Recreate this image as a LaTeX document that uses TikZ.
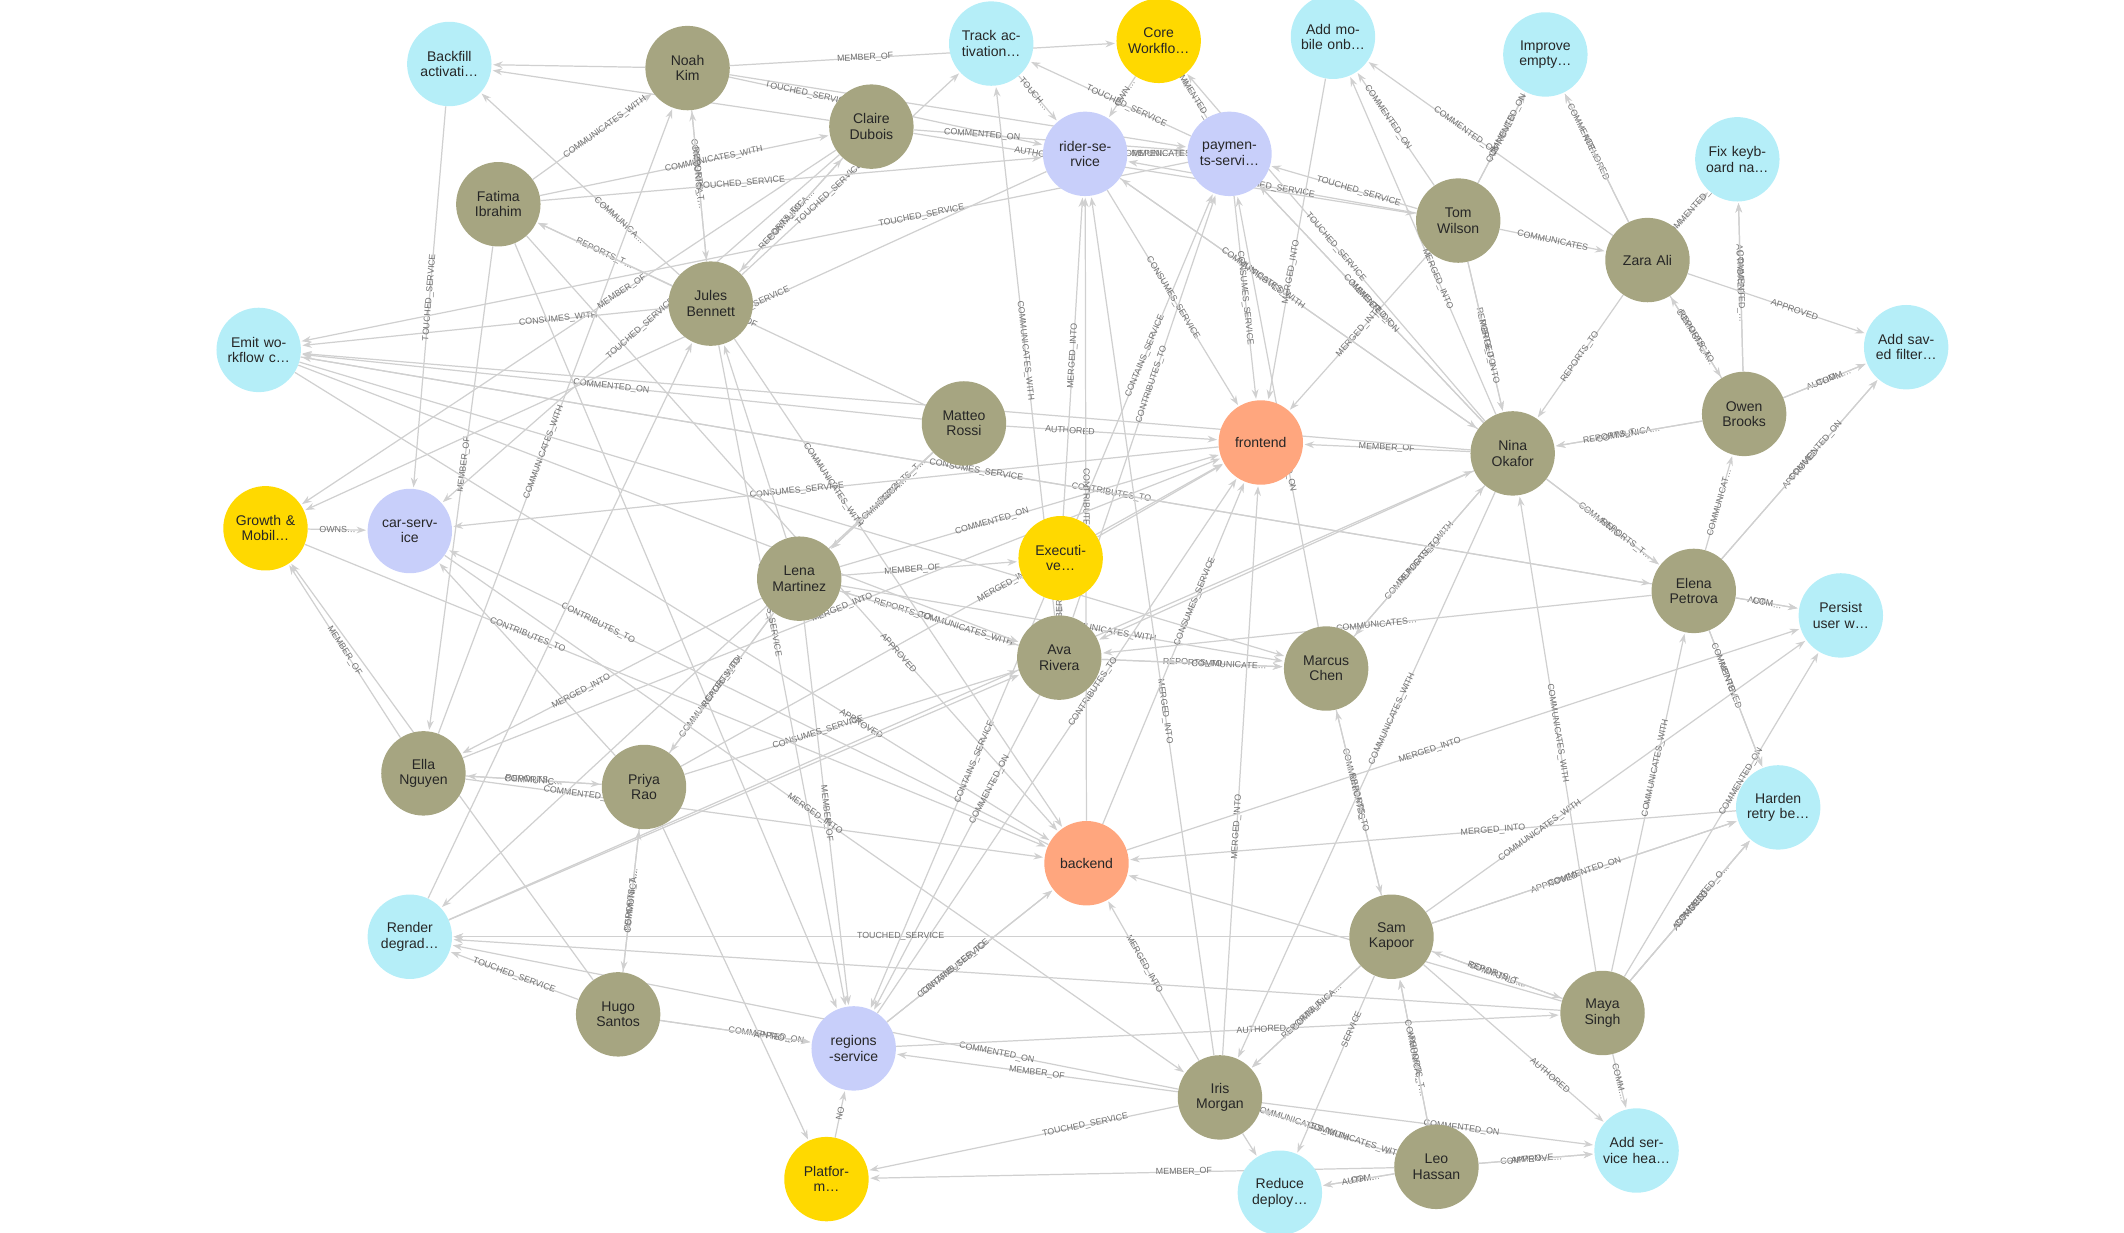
\documentclass[tikz,border=0pt]{standalone}
\usepackage{fontspec}
\setmainfont{Liberation Sans}
\usetikzlibrary{arrows.meta}
\definecolor{task}{HTML}{B5EEF8}
\definecolor{team}{HTML}{FFD900}
\definecolor{svc}{HTML}{C8CFFA}
\definecolor{repo}{HTML}{FFA67E}
\definecolor{per}{HTML}{A6A581}
\definecolor{edg}{HTML}{D0D0D0}
\definecolor{lab}{HTML}{707070}
\pgfdeclarelayer{bg}
\pgfsetlayers{bg,main}
\begin{document}
\begin{tikzpicture}[x=1pt,y=-1pt,
 nd/.style={circle,minimum size=62pt,inner sep=0pt,text width=52pt,align=center,font=\fontsize{10.3}{11.3}\selectfont,text=black!85},
 task/.style={nd,fill=task}, team/.style={nd,fill=team}, svc/.style={nd,fill=svc}, repo/.style={nd,fill=repo}, per/.style={nd,fill=per},
 e/.style={draw=edg,line width=0.9pt,-{Stealth[length=7pt,width=5pt]},shorten >=1pt},
 l/.style={sloped,font=\fontsize{6.5}{7}\selectfont,text=lab,inner sep=1pt,pos=0.5}]
\useasboundingbox (0,0) rectangle (1560,905);
% tasks
\node[task] (backfill) at (330,47) {Backfill activati…};
\node[task] (track) at (728,32) {Track ac-\\tivation…};
\node[task] (mobile) at (979,27) {Add mo-\\bile onb…};
\node[task] (improve) at (1135,40) {Improve empty…};
\node[task] (fix) at (1276,117) {Fix keyb-\\oard na…};
\node[task] (emit) at (190,257) {Emit wo-\\rkflow c…};
\node[task] (saved) at (1400,255) {Add sav-\\ed filter…};
\node[task] (persist) at (1352,452) {Persist user w…};
\node[task] (harden) at (1306,593) {Harden retry be…};
\node[task] (render) at (301,688) {Render degrad…};
\node[task] (health) at (1202,845) {Add ser-\\vice hea…};
\node[task] (reduce) at (940,876) {Reduce deploy…};
% teams
\node[team] (core) at (851,30) {Core Workflo…};
\node[team] (growth) at (195,388) {Growth \& Mobil…};
\node[team] (exec) at (779,410) {Executi-\\ve…};
\node[team] (plat) at (607,866) {Platfor-\\m…};
% services
\node[svc] (rider) at (797,113) {rider-se-\\rvice};
\node[svc] (pay) at (903,113) {paymen-\\ts-servi…};
\node[svc] (car) at (301,390) {car-serv-\\ice};
\node[svc] (regions) at (627,770) {regions\\-service};
% repos
\node[repo] (front) at (926,325) {frontend};
\node[repo] (back) at (798,634) {backend};
% people
\node[per] (noah) at (505,50) {Noah\\Kim};
\node[per] (claire) at (640,93) {Claire\\Dubois};
\node[per] (fatima) at (366,150) {Fatima\\Ibrahim};
\node[per] (jules) at (522,223) {Jules\\Bennett};
\node[per] (matteo) at (708,311) {Matteo\\Rossi};
\node[per] (tom) at (1071,162) {Tom\\Wilson};
\node[per] (zara) at (1210,191) {Zara Ali};
\node[per] (owen) at (1281,304) {Owen\\Brooks};
\node[per] (nina) at (1111,333) {Nina\\Okafor};
\node[per] (lena) at (587,425) {Lena\\Martinez};
\node[per] (ava) at (778,483) {Ava\\Rivera};
\node[per] (marcus) at (974,491) {Marcus\\Chen};
\node[per] (elena) at (1244,434) {Elena\\Petrova};
\node[per] (ella) at (311,568) {Ella\\Nguyen};
\node[per] (priya) at (473,578) {Priya\\Rao};
\node[per] (sam) at (1022,688) {Sam\\Kapoor};
\node[per] (maya) at (1177,744) {Maya\\Singh};
\node[per] (hugo) at (454,745) {Hugo\\Santos};
\node[per] (iris) at (896,806) {Iris\\Morgan};
\node[per] (leo) at (1055,857) {Leo\\Hassan};
% edges
\begin{pgfonlayer}{bg}
\draw[e] (noah) -- node[l,pos=0.35]{MEMBER\_OF} (core);
\draw[e] (noah) -- (backfill);
\draw[e] (noah) -- node[l,pos=0.25]{TOUCHED\_SERVICE} (rider);
\draw[e] (noah) -- (pay);
\draw[e] (claire) -- node[l,pos=0.25]{COMMENTED\_ON} (pay);
\draw[e] (claire) -- node[l,pos=0.25]{AUTHORED} (tom);
\draw[e] (claire) -- (backfill);
\draw[e] (fatima) -- node[l,pos=0.6]{COMMUNICATES\_WITH} (noah);
\draw[e] (fatima) -- node[l,pos=0.6]{COMMUNICATES\_WITH} (claire);
\draw[e] (jules) -- node[l]{COMMUNICA…} (claire);
\draw[e] (claire) -- node[l,pos=0.6]{REPORTS\_TO} (jules);
\draw[e] (jules) -- node[l,pos=0.6]{COMMUNICA…} (noah);
\draw[e] (noah) -- node[l,pos=0.45]{REPORTS\_T…} (jules);
\draw[e] (jules) -- node[l]{REPORTS\_T…} (fatima);
\draw[e] (jules) -- node[l,pos=0.3]{COMMUNICA…} (backfill);
\draw[e] (jules) -- node[l,pos=0.4]{TOUCHED\_SERVICE} (track);
\draw[e] (fatima) -- node[l,pos=0.4]{TOUCHED\_SERVICE} (rider);
\draw[e] (jules) -- node[l,pos=0.3]{CONSUMES\_WITH} (emit);
\draw[e] (backfill) -- node[l]{TOUCHED\_SERVICE} (car);
\draw[e] (growth) -- node[l]{OWNS…} (car);
\draw[e] (ella) -- node[l]{MEMBER\_OF} (growth);
\draw[e] (ella) -- node[l,pos=0.45]{COMMUNICATES\_WITH} (noah);
\draw[e] (fatima) -- node[l,pos=0.45]{MEMBER\_OF} (ella);
\draw[e] (ella) -- node[l]{REPORTS\_…} (priya);
\draw[e] (priya) -- node[l]{COMMUNIC…} (ella);
\draw[e] (hugo) -- node[l]{REPORTS\_T…} (priya);
\draw[e] (priya) -- node[l]{COMMUNICA…} (hugo);
\draw[e] (hugo) -- node[l]{TOUCHED\_SERVICE} (render);
\draw[e] (hugo) -- node[l,pos=0.7]{COMMENTED\_ON} (regions);
\draw[e] (hugo) -- node[l,pos=0.75]{APPRO…} (regions);
\draw[e] (hugo) -- (growth);
\draw[e] (priya) -- (car);
\draw[e] (priya) -- (plat);
\draw[e] (fatima) -- (regions);
\draw[e] (claire) -- node[l,pos=0.4]{MEMBER\_OF} (growth);
\draw[e] (rider) -- node[l,pos=0.4]{TOUCHED\_SERVICE} (growth);
\draw[e] (pay) -- node[l,pos=0.3]{TOUCHED\_SERVICE} (emit);
\draw[e] (matteo) -- node[l,pos=0.5]{MEMBER\_OF} (fatima);
\draw[e] (matteo) -- node[l,pos=0.3]{REPORTS\_T…} (lena);
\draw[e] (matteo) -- node[l,pos=0.5]{COMMUNICA…} (lena);
\draw[e] (matteo) -- node[l,pos=0.3]{AUTHORED} (front);
\draw[e] (lena) -- node[l,pos=0.4]{COMMENTED\_ON} (front);
\draw[e] (front) -- node[l,pos=0.55]{CONSUMES\_SERVICE} (car);
\draw[e] (back) -- node[l,pos=0.75]{CONTRIBUTES\_TO} (car);
\draw[e] (lena) -- node[l,pos=0.4]{MEMBER\_OF} (exec);
\draw[e] (lena) -- node[l,pos=0.35]{REPORTS\_TO} (ava);
\draw[e] (lena) -- node[l,pos=0.6]{COMMUNICATES\_WITH} (marcus);
\draw[e] (ava) -- node[l]{REPORTS\_TO} (marcus);
\draw[e] (ava) -- node[l,pos=0.7]{COMMUNICATE…} (marcus);
\draw[e] (ava) -- node[l,pos=0.3]{COMMUNICATES\_WITH} (lena);
\draw[e] (ava) -- node[l,pos=0.3]{MEMBER\_OF} (exec);
\draw[e] (lena) -- node[l,pos=0.6]{COMMUNICATES\_WITH} (priya);
\draw[e] (lena) -- node[l,pos=0.6]{MERGED\_INTO} (ella);
\draw[e] (lena) -- node[l,pos=0.5]{MEMBER\_OF} (regions);
\draw[e] (lena) -- (jules);
\draw[e] (priya) -- node[l,pos=0.4]{CONSUMES\_SERVICE} (ava);
\draw[e] (priya) -- node[l,pos=0.5]{REPORTS\_TO} (lena);
\draw[e] (priya) -- node[l,pos=0.6]{MERGED\_INTO} (front);
\draw[e] (ella) -- node[l,pos=0.2]{COMMENTED\_ON} (back);
\draw[e] (emit) -- node[l,pos=0.75]{APPROVED} (back);
\draw[e] (emit) -- node[l,pos=0.6]{CONTRIBUTES\_TO} (elena);
\draw[e] (fatima) -- node[l,pos=0.7]{APPROVED} (back);
\draw[e] (render) -- (nina);
\draw[e] (render) -- (ava);
\draw[e] (maya) -- (render);
\draw[e] (sam) -- (render);
\draw[e] (iris) -- node[l,pos=0.25]{COMMENTED\_ON} (render);
\draw[e] (iris) -- node[l,pos=0.3]{TOUCHED\_SERVICE} (plat);
\draw[e] (leo) -- node[l,pos=0.4]{MEMBER\_OF} (plat);
\draw[e] (iris) -- node[l,pos=0.5]{MEMBER\_OF} (regions);
\draw[e] (plat) -- node[l,pos=0.5]{NO} (regions);
\draw[e] (regions) -- node[l,pos=0.4]{CONTRIBUTES\_TO} (back);
\draw[e] (regions) -- node[l,pos=0.4]{CONTAINS\_SERVICE} (back);
\draw[e] (regions) -- node[l,pos=0.6]{CONTRIBUTES\_TO} (front);
\draw[e] (regions) -- node[l,pos=0.55]{AUTHORED} (maya);
\draw[e] (exec) -- node[l,pos=0.4]{CONTAINS\_SERVICE} (regions);
\draw[e] (ava) -- node[l,pos=0.3]{COMMENTED\_ON} (regions);
\draw[e] (exec) -- node[l]{CONTAINS\_SERVICE} (pay);
\draw[e] (exec) -- node[l,pos=0.5]{MERGED\_INTO} (rider);
\draw[e] (exec) -- (front);
\draw[e] (ava) -- node[l,pos=0.55]{CONTRIBUTES\_TO} (pay);
\draw[e] (iris) -- node[l,pos=0.4]{MERGED\_INTO} (rider);
\draw[e] (iris) -- node[l,pos=0.4]{MERGED\_INTO} (front);
\draw[e] (iris) -- node[l,pos=0.6]{MERGED\_INTO} (back);
\draw[e] (back) -- node[l,pos=0.65]{CONSUMES\_SERVICE} (front);
\draw[e] (back) -- node[l,pos=0.45]{MERGED\_INTO} (persist);
\draw[e] (harden) -- node[l,pos=0.4]{MERGED\_INTO} (back);
\draw[e] (iris) -- node[l,pos=0.3]{COMMUNICATES\_WITH} (leo);
\draw[e] (leo) -- node[l,pos=0.3]{COMMUNICATES\_WITH} (iris);
\draw[e] (leo) -- node[l,pos=0.4]{COM…} (reduce);
\draw[e] (leo) -- node[l,pos=0.5]{AUTH…} (reduce);
\draw[e] (iris) -- (reduce);
\draw[e] (sam) -- node[l,pos=0.3]{SERVICE} (reduce);
\draw[e] (leo) -- node[l,pos=0.4]{COMMEN…} (health);
\draw[e] (leo) -- node[l,pos=0.5]{APPROVE…} (health);
\draw[e] (iris) -- node[l,pos=0.6]{COMMENTED\_ON} (health);
\draw[e] (sam) -- node[l,pos=0.7]{AUTHORED} (health);
\draw[e] (maya) -- node[l,pos=0.5]{COMM…} (health);
\draw[e] (leo) -- node[l,pos=0.4]{REPORTS\_T…} (sam);
\draw[e] (leo) -- node[l,pos=0.5]{COMMUNICA…} (sam);
\draw[e] (sam) -- node[l,pos=0.5]{REPORTS\_T…} (iris);
\draw[e] (sam) -- node[l,pos=0.4]{COMMUNICA…} (iris);
\draw[e] (sam) -- node[l,pos=0.5]{COMMUNIC…} (maya);
\draw[e] (maya) -- node[l,pos=0.5]{REPORTS\_T…} (sam);
\draw[e] (sam) -- node[l,pos=0.5]{TOUCHED\_SERVICE} (render);
\draw[e] (sam) -- node[l,pos=0.3]{COMMUNICATES\_WITH} (persist);
\draw[e] (sam) -- node[l,pos=0.4]{APPROVED} (harden);
\draw[e] (sam) -- node[l,pos=0.5]{COMMENTED\_ON} (harden);
\draw[e] (marcus) -- node[l,pos=0.4]{COMMUNICATES} (sam);
\draw[e] (sam) -- node[l,pos=0.5]{REPORTS\_TO} (marcus);
\draw[e] (marcus) -- node[l,pos=0.5]{COMMUNICATES\_WITH} (nina);
\draw[e] (nina) -- node[l,pos=0.5]{REPORTS\_TO} (marcus);
\draw[e] (maya) -- node[l,pos=0.5]{APPROVED} (harden);
\draw[e] (maya) -- node[l,pos=0.5]{AUTHORED} (harden);
\draw[e] (maya) -- node[l,pos=0.6]{COMMENTED\_O…} (harden);
\draw[e] (maya) -- node[l,pos=0.6]{COMMENTED\_ON} (persist);
\draw[e] (maya) -- node[l,pos=0.6]{COMMUNICATES\_WITH} (elena);
\draw[e] (maya) -- node[l,pos=0.5]{COMMUNICATES\_WITH} (nina);
\draw[e] (maya) -- (back);
\draw[e] (elena) -- node[l,pos=0.4]{AUT…} (persist);
\draw[e] (elena) -- node[l,pos=0.5]{COM…} (persist);
\draw[e] (elena) -- node[l,pos=0.4]{APPROVED} (harden);
\draw[e] (elena) -- node[l,pos=0.3]{COMMENTE…} (harden);
\draw[e] (elena) -- node[l,pos=0.5]{APPROVED} (saved);
\draw[e] (elena) -- node[l,pos=0.6]{COMMENTED\_ON} (saved);
\draw[e] (elena) -- node[l,pos=0.5]{COMMUNICAT…} (owen);
\draw[e] (elena) -- node[l,pos=0.5]{COMMUNICATES…} (ava);
\draw[e] (elena) -- node[l,pos=0.5]{CONSUMES\_SERVICE} (emit);
\draw[e] (nina) -- node[l,pos=0.5]{COMMUNIC…} (elena);
\draw[e] (nina) -- node[l,pos=0.7]{REPORTS\_T…} (elena);
\draw[e] (owen) -- node[l,pos=0.5]{COMMUNICA…} (nina);
\draw[e] (owen) -- node[l,pos=0.6]{REPORTS\_T…} (nina);
\draw[e] (owen) -- node[l,pos=0.5]{AUTHO…} (saved);
\draw[e] (owen) -- node[l,pos=0.6]{COMM…} (saved);
\draw[e] (owen) -- node[l,pos=0.6]{AUTHORED} (fix);
\draw[e] (owen) -- node[l,pos=0.5]{COMMENTED\_…} (fix);
\draw[e] (owen) -- node[l,pos=0.5]{COMMUNICA…} (zara);
\draw[e] (zara) -- node[l,pos=0.5]{REPORTS\_TO} (owen);
\draw[e] (zara) -- node[l,pos=0.5]{AUTHORED} (improve);
\draw[e] (zara) -- node[l,pos=0.7]{COMMENTE…} (improve);
\draw[e] (zara) -- node[l,pos=0.5]{COMMENTED\_ON} (fix);
\draw[e] (zara) -- node[l,pos=0.5]{REPORTS\_TO} (nina);
\draw[e] (zara) -- node[l,pos=0.6]{COMMENTED\_ON} (mobile);
\draw[e] (zara) -- node[l,pos=0.6]{APPROVED} (saved);
\draw[e] (tom) -- node[l,pos=0.5]{APPROVED} (improve);
\draw[e] (tom) -- node[l,pos=0.6]{COMMENTED\_ON} (improve);
\draw[e] (tom) -- node[l,pos=0.6]{COMMENTED\_ON} (mobile);
\draw[e] (tom) -- node[l,pos=0.5]{TOUCHED\_SERVICE} (rider);
\draw[e] (tom) -- node[l,pos=0.5]{COMMUNICATES} (zara);
\draw[e] (tom) -- node[l,pos=0.5]{REPORTS\_TO} (nina);
\draw[e] (tom) -- node[l,pos=0.6]{MERGED\_INTO} (nina);
\draw[e] (tom) -- node[l,pos=0.5]{MERGED\_INTO} (front);
\draw[e] (tom) -- node[l,pos=0.4]{TOUCHED\_SERVICE} (pay);
\draw[e] (nina) -- node[l,pos=0.5]{MEMBER\_OF} (pay);
\draw[e] (nina) -- node[l,pos=0.5]{COMMENTED\_ON} (pay);
\draw[e] (nina) -- node[l,pos=0.6]{APPROVED} (rider);
\draw[e] (nina) -- node[l,pos=0.5]{TOUCHED\_SERVICE} (core);
\draw[e] (nina) -- node[l,pos=0.4]{MERGED\_INTO} (mobile);
\draw[e] (nina) -- node[l,pos=0.4]{COMMUNICATES\_WITH} (iris);
\draw[e] (nina) -- node[l,pos=0.5]{MEMBER\_OF} (front);
\draw[e] (nina) -- (emit);
\draw[e] (nina) -- (ava);
\draw[e] (mobile) -- node[l,pos=0.6]{MERGED\_INTO} (front);
\draw[e] (track) -- node[l,pos=0.4]{TOUCH…} (rider);
\draw[e] (core) -- node[l,pos=0.4]{OWN…} (rider);
\draw[e] (rider) -- node[l,pos=0.4]{DEPEN…} (pay);
\draw[e] (pay) -- node[l,pos=0.5]{COMMUNICATES\_} (rider);
\draw[e] (pay) -- node[l,pos=0.4]{TOUCHED\_SERVICE} (track);
\draw[e] (pay) -- node[l,pos=0.5]{COMMENTED\_ON} (core);
\draw[e] (pay) -- node[l,pos=0.5]{CONSUMES\_SERVICE} (front);
\draw[e] (rider) -- node[l,pos=0.5]{CONSUMES\_SERVICE} (front);
\draw[e] (rider) -- node[l,pos=0.4]{COMMUNICATES\_WITH} (nina);
\draw[e] (back) -- node[l,pos=0.5]{CONTRIBUTES\_TO} (rider);
\draw[e] (ava) -- node[l,pos=0.5]{COMMUNICATES\_WITH} (track);
\draw[e] (marcus) -- node[l,pos=0.4]{COMMENTED\_ON} (pay);
\draw[e] (matteo) -- node[l,pos=0.5]{COMMENTED\_ON} (emit);
\draw[e] (claire) -- node[l,pos=0.5]{TOUCHED\_SERVICE} (car);
\draw[e] (jules) -- node[l,pos=0.3]{COMMUNICATES\_WITH} (back);
\draw[e] (jules) -- node[l,pos=0.4]{CONSUMES\_SERVICE} (regions);
\draw[e] (ella) -- node[l,pos=0.5]{MERGED\_INTO} (front);
\draw[e] (growth) -- node[l,pos=0.3]{CONTRIBUTES\_TO} (back);
\draw[e] (car) -- node[l,pos=0.5]{MERGED\_INTO} (iris);
\draw[e] (emit) -- (marcus);
\draw[e] (emit) -- (ava);
\draw[e] (render) -- (jules);
\draw[e] (matteo) -- (render);
\end{pgfonlayer}
\end{tikzpicture}
\end{document}
